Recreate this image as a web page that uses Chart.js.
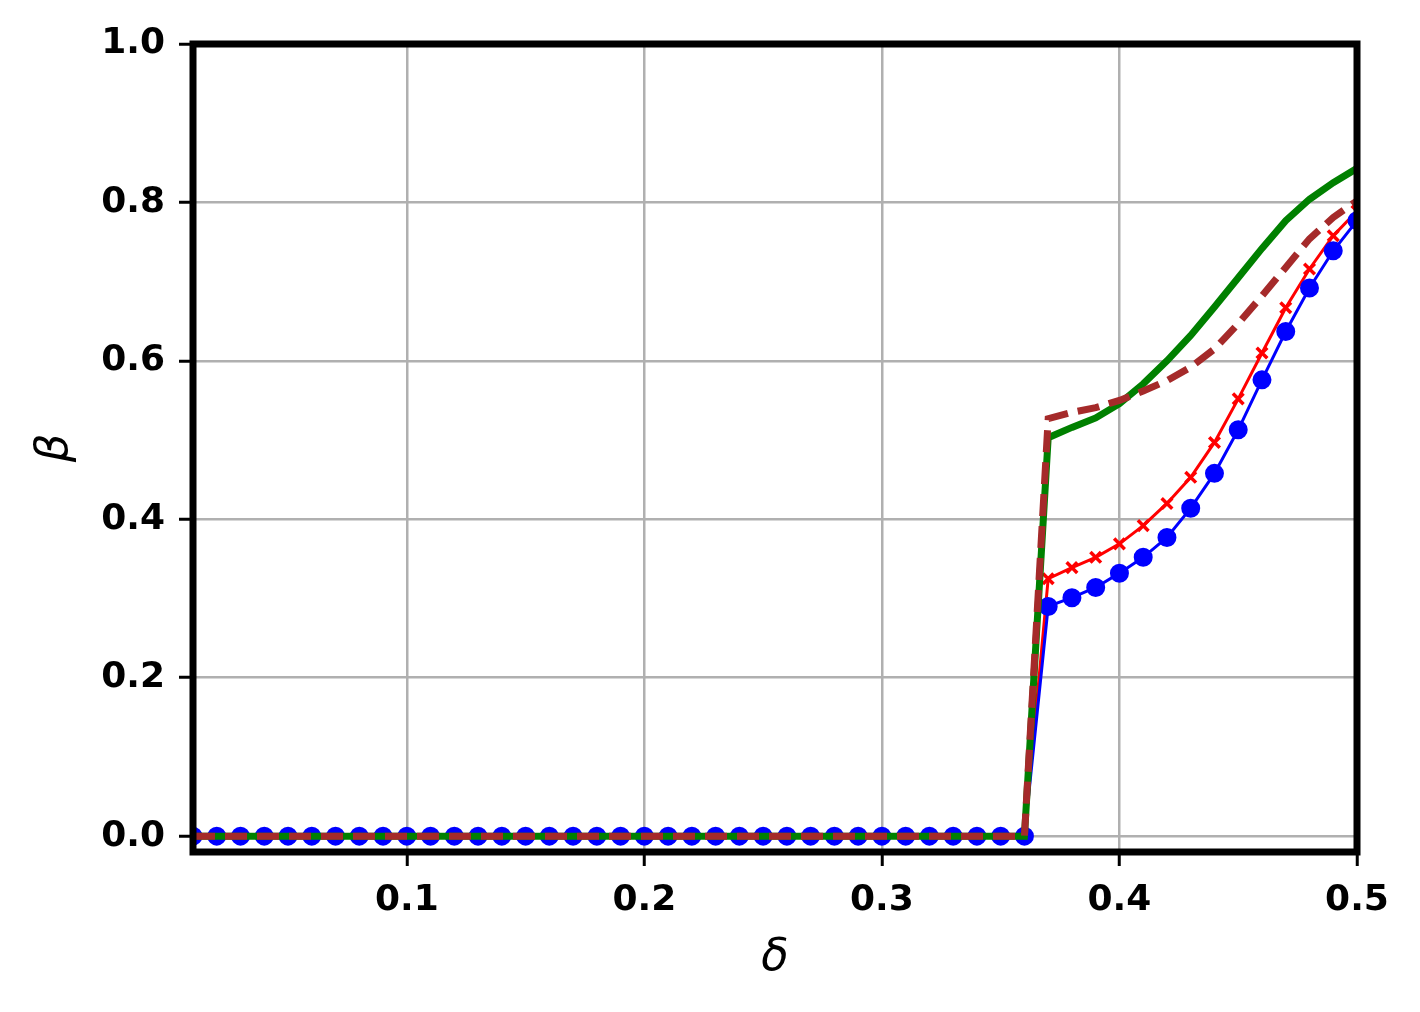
<!DOCTYPE html>
<html>
<head>
<meta charset="utf-8">
<script src="https://cdn.jsdelivr.net/npm/chart.js@4.4.0/dist/chart.umd.min.js"></script>
<style>
  html, body { margin: 0; padding: 0; background: #fff; }
  #wrap { width: 1420px; height: 1012px; }
</style>
</head>
<body>
<div id="wrap"><canvas id="chart" width="1420" height="1012"></canvas></div>
<script>
// delta values (x)
const delta = [0.01, 0.02, 0.03, 0.04, 0.05, 0.06, 0.07, 0.08, 0.09, 0.10,
               0.11, 0.12, 0.13, 0.14, 0.15, 0.16, 0.17, 0.18, 0.19, 0.20,
               0.21, 0.22, 0.23, 0.24, 0.25, 0.26, 0.27, 0.28, 0.29, 0.30,
               0.31, 0.32, 0.33, 0.34, 0.35, 0.36, 0.37, 0.38, 0.39, 0.40,
               0.41, 0.42, 0.43, 0.44, 0.45, 0.46, 0.47, 0.48, 0.49, 0.50];

// beta series (0.01 .. 0.36 are all zero)
const betaBlue = [0, 0, 0, 0, 0, 0, 0, 0, 0, 0,
                  0, 0, 0, 0, 0, 0, 0, 0, 0, 0,
                  0, 0, 0, 0, 0, 0, 0, 0, 0, 0,
                  0, 0, 0, 0, 0, 0, 0.290, 0.301, 0.314, 0.332,
                  0.352, 0.377, 0.414, 0.458, 0.513, 0.576, 0.637, 0.692, 0.739, 0.777];
const betaRed = [0, 0, 0, 0, 0, 0, 0, 0, 0, 0,
                 0, 0, 0, 0, 0, 0, 0, 0, 0, 0,
                 0, 0, 0, 0, 0, 0, 0, 0, 0, 0,
                 0, 0, 0, 0, 0, 0, 0.325, 0.339, 0.352, 0.369,
                 0.392, 0.420, 0.453, 0.497, 0.552, 0.610, 0.667, 0.716, 0.758, 0.789];
const betaGreen = [0, 0, 0, 0, 0, 0, 0, 0, 0, 0,
                   0, 0, 0, 0, 0, 0, 0, 0, 0, 0,
                   0, 0, 0, 0, 0, 0, 0, 0, 0, 0,
                   0, 0, 0, 0, 0, 0, 0.503, 0.516, 0.528, 0.546,
                   0.571, 0.600, 0.632, 0.668, 0.705, 0.742, 0.777, 0.804, 0.825, 0.843];
const betaBrown = [0, 0, 0, 0, 0, 0, 0, 0, 0, 0,
                   0, 0, 0, 0, 0, 0, 0, 0, 0, 0,
                   0, 0, 0, 0, 0, 0, 0, 0, 0, 0,
                   0, 0, 0, 0, 0, 0, 0.527, 0.535, 0.541, 0.550,
                   0.562, 0.575, 0.592, 0.615, 0.647, 0.682, 0.718, 0.754, 0.781, 0.802];

const xTicks = [0.1, 0.2, 0.3, 0.4, 0.5];
const yTicks = [0.0, 0.2, 0.4, 0.6, 0.8, 1.0];

function pts(ys) {
    return delta.map((x, i) => ({x: x, y: ys[i]}));
}

const frame = {
    id: 'frame',
    afterDatasetsDraw(chart) {
        const {ctx, chartArea: a} = chart;
        ctx.save();
        ctx.strokeStyle = '#000';
        ctx.lineWidth = 7;
        ctx.strokeRect(a.left, a.top, a.right - a.left, a.bottom - a.top);
        ctx.restore();
    }
};

const tickFont = {family: 'DejaVu Sans', size: 36, weight: 'bold'};
const titleFont = {family: 'DejaVu Sans', size: 45, style: 'italic'};

const ctx = document.getElementById('chart').getContext('2d');
const myChart = new Chart(ctx, {
    type: 'line',
    data: {
        // first dataset is drawn on top
        datasets: [{
            label: 'brown',
            data: pts(betaBrown),
            borderColor: '#a52a2a',
            borderWidth: 7,
            borderDash: [22, 10],
            pointRadius: 0,
            tension: 0
        }, {
            label: 'green',
            data: pts(betaGreen),
            borderColor: '#008000',
            borderWidth: 7,
            pointRadius: 0,
            tension: 0
        }, {
            label: 'blue',
            data: pts(betaBlue),
            borderColor: '#0000ff',
            backgroundColor: '#0000ff',
            borderWidth: 3,
            pointRadius: 8,
            pointStyle: 'circle',
            tension: 0
        }, {
            label: 'red',
            data: pts(betaRed),
            borderColor: '#ff0000',
            backgroundColor: '#ff0000',
            borderWidth: 3,
            pointRadius: 7.5,
            pointBorderWidth: 3.5,
            pointStyle: 'crossRot',
            tension: 0
        }]
    },
    options: {
        responsive: false,
        animation: false,
        layout: {padding: {top: 44, right: 63, left: 0, bottom: 0}},
        scales: {
            x: {
                type: 'linear',
                min: 0.01,
                max: 0.5,
                afterBuildTicks: (s) => { s.ticks = xTicks.map(v => ({value: v})); },
                afterFit: (s) => { s.height = 160; },
                ticks: {
                    color: '#000',
                    font: tickFont,
                    padding: 13,
                    maxRotation: 0,
                    callback: (v) => v.toFixed(1)
                },
                grid: {
                    color: '#b0b0b0',
                    lineWidth: 2.5,
                    tickColor: '#000',
                    tickWidth: 3,
                    tickLength: 14
                },
                border: {display: false},
                title: {
                    display: true,
                    text: 'δ',
                    color: '#000',
                    font: titleFont,
                    padding: {bottom: 27}
                }
            },
            y: {
                type: 'linear',
                min: -0.02,
                max: 1.0,
                afterBuildTicks: (s) => { s.ticks = yTicks.map(v => ({value: v})); },
                afterFit: (s) => { s.width = 193; },
                ticks: {
                    color: '#000',
                    font: tickFont,
                    padding: 14,
                    callback: (v) => v.toFixed(1)
                },
                grid: {
                    color: '#b0b0b0',
                    lineWidth: 2.5,
                    tickColor: '#000',
                    tickWidth: 3,
                    tickLength: 14
                },
                border: {display: false},
                title: {
                    display: true,
                    text: 'β',
                    color: '#000',
                    font: titleFont,
                    padding: {top: 28}
                }
            }
        },
        plugins: {
            legend: {display: false},
            tooltip: {enabled: false}
        }
    },
    plugins: [frame]
});
</script>
</body>
</html>
